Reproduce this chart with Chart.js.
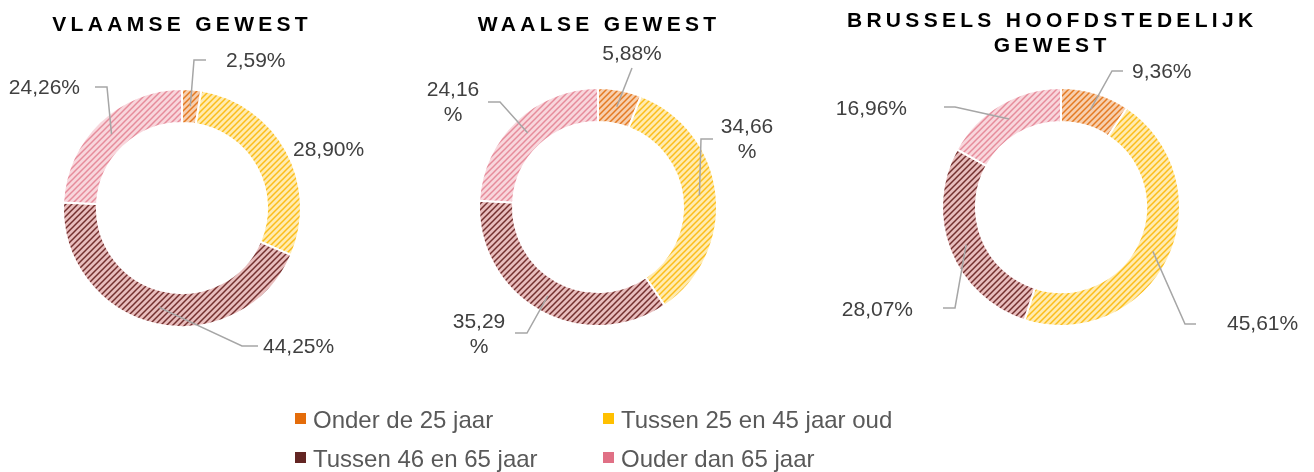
<!DOCTYPE html>
<html>
<head>
<meta charset="utf-8">
<script src="https://cdn.jsdelivr.net/npm/chart.js@4.4.1/dist/chart.umd.min.js"></script>
<style>
html, body { margin: 0; padding: 0; background: #fff; }
#wrap { position: relative; width: 1314px; height: 472px; overflow: hidden; font-family: "Liberation Sans", Arial, sans-serif; }
#wrap canvas { position: absolute; left: 0; top: 0; }
.titel { position: absolute; width: 500px; text-align: center; font-weight: bold; font-size: 21px; line-height: 25px; letter-spacing: 4.3px; padding-left: 4.3px; box-sizing: border-box; color: #000; }
.leg { position: absolute; font-size: 24px; line-height: 28px; color: #595959; white-space: nowrap; padding-left: 18px; }
.leg i { position: absolute; left: 0; top: 7px; width: 11px; height: 11px; }
</style>
</head>
<body>
<div id="wrap">
	<canvas id="c1" width="1314" height="472"></canvas>
	<canvas id="c2" width="1314" height="472"></canvas>
	<canvas id="c3" width="1314" height="472"></canvas>
</div>
<script>
// gegevens
const categorieen = ['Onder de 25 jaar', 'Tussen 25 en 45 jaar oud', 'Tussen 46 en 65 jaar', 'Ouder dan 65 jaar'];
const vlaams  = [2.59, 28.90, 44.25, 24.26];
const waals   = [5.88, 34.66, 35.29, 24.16];
const brussel = [9.36, 45.61, 28.07, 16.96];
const titels  = [['VLAAMSE GEWEST'], ['WAALSE GEWEST'], ['BRUSSELS HOOFDSTEDELIJK', 'GEWEST']];

const kleuren = ['#E46C0A', '#FFC000', '#632523', '#E07085'];
const arceerKleuren = [
	['#F7CFAE', '#E47A22'],
	['#FFEBB0', '#FBBD1A'],
	['#E8BDBD', '#74302F'],
	['#F8D6DC', '#E68C9B']
];

const W = 1314, H = 472;

function arcering(bg, fg) {
	var c = document.createElement('canvas');
	c.width = 6; c.height = 6;
	var x = c.getContext('2d');
	x.fillStyle = bg;
	x.fillRect(0, 0, 6, 6);
	x.strokeStyle = fg;
	x.lineWidth = 1.5;
	x.beginPath();
	x.moveTo(-1, 1); x.lineTo(1, -1);
	x.moveTo(-1, 7); x.lineTo(7, -1);
	x.moveTo(5, 7); x.lineTo(7, 5);
	x.stroke();
	return x.createPattern(c, 'repeat');
}

var vullingen = arceerKleuren.map(function(k) { return arcering(k[0], k[1]); });

function fmt(v) {
	return v.toFixed(2).replace('.', ',');
}

// labels met verbindingslijnen
const labelPlugin = {
	id: 'pctLabels',
	afterDatasetsDraw(chart, args, opts) {
		var ctx = chart.ctx;
		var meta = chart.getDatasetMeta(0);
		meta.data.forEach(function(arc, i) {
			var p = arc.getProps(['x', 'y', 'startAngle', 'endAngle', 'innerRadius', 'outerRadius'], true);
			var L = opts.plaats[i];
			var mid = (p.startAngle + p.endAngle) / 2;
			var r = (p.innerRadius + p.outerRadius) / 2;
			ctx.save();
			if (L.lijn) {
				ctx.strokeStyle = '#A6A6A6';
				ctx.lineWidth = 1.5;
				ctx.beginPath();
				ctx.moveTo(p.x + Math.cos(mid) * r, p.y + Math.sin(mid) * r);
				L.lijn.forEach(function(q) { ctx.lineTo(p.x + q[0], p.y + q[1]); });
				ctx.stroke();
			}
			ctx.fillStyle = '#404040';
			ctx.font = '21px "Liberation Sans", Arial, sans-serif';
			ctx.textAlign = L.align;
			ctx.textBaseline = 'middle';
			var tekst = fmt(opts.waarden[i]);
			if (L.breek) {
				ctx.fillText(tekst, p.x + L.t[0], p.y + L.t[1]);
				ctx.fillText('%', p.x + L.t[0], p.y + L.t[1] + 25);
			} else {
				ctx.fillText(tekst + '%', p.x + L.t[0], p.y + L.t[1]);
			}
			ctx.restore();
		});
	}
};

function maakDonut(id, waarden, cx, cy, plaats) {
	var R = 119;
	return new Chart(document.getElementById(id), {
		type: 'doughnut',
		data: {
			labels: categorieen,
			datasets: [{
				data: waarden,
				backgroundColor: vullingen,
				borderColor: '#ffffff',
				borderWidth: 2
			}]
		},
		options: {
			responsive: false,
			animation: false,
			cutout: '71.5%',
			layout: { padding: { left: cx - R - 1, right: W - cx - R - 1, top: cy - R - 1, bottom: H - cy - R - 1 } },
			plugins: {
				legend: { display: false },
				tooltip: { enabled: false },
				pctLabels: { waarden: waarden, plaats: plaats }
			}
		},
		plugins: [labelPlugin]
	});
}

maakDonut('c1', vlaams, 182, 208, [
	{ t: [44, -147], align: 'left', lijn: [[12, -148], [24, -148]] },
	{ t: [111, -58], align: 'left' },
	{ t: [81, 139], align: 'left', lijn: [[60, 138], [76, 138]] },
	{ t: [-102, -120], align: 'right', lijn: [[-75, -121], [-87, -121]] }
]);

maakDonut('c2', waals, 598, 207, [
	{ t: [34, -153], align: 'center', lijn: [[34, -139]] },
	{ t: [149, -80], align: 'center', breek: true, lijn: [[103, -68], [115, -68]] },
	{ t: [-119, 115], align: 'center', breek: true, lijn: [[-71, 126], [-83, 126]] },
	{ t: [-145, -117], align: 'center', breek: true, lijn: [[-98, -105], [-110, -105]] }
]);

maakDonut('c3', brussel, 1061, 207, [
	{ t: [71, -135], align: 'left', lijn: [[51, -136], [62, -136]] },
	{ t: [166, 117], align: 'left', lijn: [[124, 117], [135, 117]] },
	{ t: [-148, 103], align: 'right', lijn: [[-106, 101], [-118, 101]] },
	{ t: [-154, -98], align: 'right', lijn: [[-106, -100], [-117, -100]] }
]);

// titels
var wrap = document.getElementById('wrap');
var titelPlek = [[180, 11], [597, 11], [1050, 7]];
titels.forEach(function(regels, i) {
	var d = document.createElement('div');
	d.className = 'titel';
	d.style.left = (titelPlek[i][0] - 250) + 'px';
	d.style.top = titelPlek[i][1] + 'px';
	d.innerHTML = regels.join('<br>');
	wrap.appendChild(d);
});

// legenda
var legPlek = [[295, 406], [603, 406], [295, 445], [603, 445]];
categorieen.forEach(function(naam, i) {
	var d = document.createElement('div');
	d.className = 'leg';
	d.style.left = legPlek[i][0] + 'px';
	d.style.top = legPlek[i][1] + 'px';
	var m = document.createElement('i');
	m.style.background = kleuren[i];
	d.appendChild(m);
	d.appendChild(document.createTextNode(naam));
	wrap.appendChild(d);
});
</script>
</body>
</html>
